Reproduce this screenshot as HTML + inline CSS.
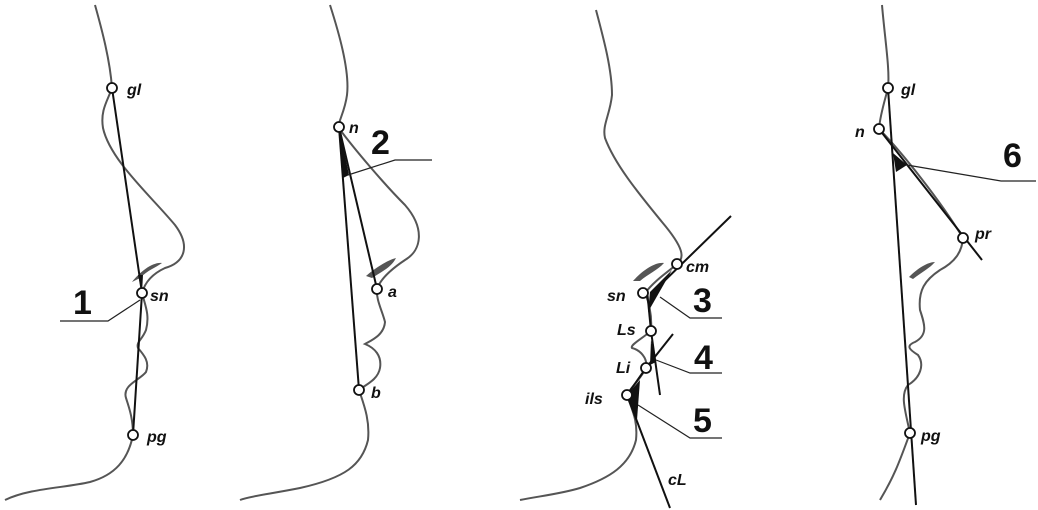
<!DOCTYPE html>
<html><head><meta charset="utf-8"><style>
html,body{margin:0;padding:0;background:#fff}
svg{display:block}
text{font-family:"Liberation Sans",sans-serif;font-weight:bold;font-style:italic;font-size:16px;fill:#111}
.n{font-style:normal;font-size:34px}
.p{fill:none;stroke:#555;stroke-width:2}
.l{stroke:#111;stroke-width:2;fill:none}
.t{stroke:#222;stroke-width:1.2;fill:none}
circle{fill:#fff;stroke:#111;stroke-width:1.8}
</style></head><body>
<svg width="1038" height="510" viewBox="0 0 1038 510">
<!-- Panel 1 -->
<path class="p" d="M95,5 C102,30 110,60 112,88 C108,100 100,110 103,128 C110,160 150,195 175,225 C190,245 186,262 165,268 C152,274 145,282 142,293 C145,305 150,315 146,330 C142,340 136,342 138,348 C144,355 150,362 146,372 C140,380 122,385 126,398 C130,410 133,420 133,435 C128,460 115,475 90,482 C65,488 30,488 5,500"/>
<path d="M132,282 C140,272 152,262 162,263 C155,268 148,270 140,278" fill="#555"/>
<line class="l" x1="112" y1="88" x2="142" y2="293"/>
<line class="l" x1="142" y1="293" x2="133" y2="435"/>
<path d="M138,275 L143,275 L142,293 Z" fill="#111"/>
<polyline class="t" points="60,321 108,321 140,300"/>
<text class="n" x="73" y="314">1</text>
<circle cx="112" cy="88" r="5"/><circle cx="142" cy="293" r="5"/><circle cx="133" cy="435" r="5"/>
<text x="127" y="95">gl</text><text x="150" y="301">sn</text><text x="147" y="442">pg</text>
<!-- Panel 2 -->
<path class="p" d="M330,5 C338,30 350,70 347,95 C345,110 340,118 338,127 C355,150 385,185 405,205 C425,228 422,250 405,260 C390,270 380,280 377,289 C376,300 382,310 385,322 C384,335 372,340 365,344 C375,348 382,356 380,368 C378,380 365,385 359,390 C364,405 370,420 368,440 C362,465 345,478 300,488 C270,494 250,496 240,500"/>
<path d="M366,276 C375,268 388,260 396,258 C392,266 385,270 372,278 Z" fill="#555"/>
<line class="l" x1="339" y1="127" x2="359" y2="390"/>
<line class="l" x1="339" y1="127" x2="377" y2="289"/>
<path d="M339,127 L349,175 L343,178 Z" fill="#111"/>
<polyline class="t" points="432,160 395,160 348,175"/>
<text class="n" x="371" y="154">2</text>
<circle cx="339" cy="127" r="5"/><circle cx="377" cy="289" r="5"/><circle cx="359" cy="390" r="5"/>
<text x="349" y="133">n</text><text x="388" y="297">a</text><text x="371" y="398">b</text>
<!-- Panel 3 -->
<path class="p" d="M596,10 C604,40 612,70 612,95 C610,115 602,125 605,138 C615,165 640,195 662,222 C684,248 685,258 677,264 C668,272 655,280 645,293 C650,305 652,318 651,331 C640,340 630,345 632,348 C640,350 648,358 646,368 C640,380 630,388 627,395 C632,410 638,420 636,440 C630,465 610,478 580,488 C560,494 540,496 520,500"/>
<path d="M633,281 C643,270 655,262 664,263 C658,270 648,274 640,281 Z" fill="#555"/>
<line class="l" x1="653" y1="292" x2="731" y2="216"/>
<line class="l" x1="647" y1="290" x2="651" y2="331"/>
<path d="M650,292 L672,270 L648,312 Z" fill="#111"/>
<line class="l" x1="651" y1="331" x2="660" y2="395"/>
<line class="l" x1="646" y1="368" x2="673" y2="334"/>
<path d="M651,340 L656,362 L650,365 Z" fill="#111"/>
<line class="l" x1="627" y1="395" x2="670" y2="508"/>
<line class="l" x1="627" y1="395" x2="646" y2="368"/>
<path d="M627,395 L640,380 L637,420 Z" fill="#111"/>
<polyline class="t" points="660,297 690,318 722,318"/>
<polyline class="t" points="656,360 690,373 722,373"/>
<polyline class="t" points="638,405 690,438 722,438"/>
<text class="n" x="693" y="312">3</text>
<text class="n" x="694" y="369">4</text>
<text class="n" x="693" y="432">5</text>
<circle cx="677" cy="264" r="5"/><circle cx="643" cy="293" r="5"/><circle cx="651" cy="331" r="5"/><circle cx="646" cy="368" r="5"/><circle cx="627" cy="395" r="5"/>
<text x="686" y="272">cm</text><text x="607" y="301">sn</text><text x="617" y="335">Ls</text><text x="616" y="373">Li</text><text x="585" y="404">ils</text><text x="668" y="485">cL</text>
<!-- Panel 4 -->
<path class="p" d="M882,5 C885,40 890,70 888,88 C885,100 880,115 879,129 C900,150 940,200 963,238 C962,252 955,262 940,270 C925,280 918,290 920,310 C925,325 928,335 915,342 C905,346 910,350 918,355 C925,365 920,378 908,385 C900,395 905,410 910,433 C900,460 895,475 880,500"/>
<path d="M909,277 C918,268 928,262 935,262 C930,268 922,272 913,279 Z" fill="#555"/>
<line class="l" x1="888" y1="88" x2="916" y2="505"/>
<line class="l" x1="879" y1="129" x2="982" y2="260"/>
<path d="M893,153 L907,165 L896,172 Z" fill="#111"/>
<polyline class="t" points="907,165 1001,181 1036,181"/>
<text class="n" x="1003" y="167">6</text>
<circle cx="888" cy="88" r="5"/><circle cx="879" cy="129" r="5"/><circle cx="963" cy="238" r="5"/><circle cx="910" cy="433" r="5"/>
<text x="901" y="95">gl</text><text x="855" y="137">n</text><text x="975" y="239">pr</text><text x="921" y="441">pg</text>
</svg>
</body></html>
